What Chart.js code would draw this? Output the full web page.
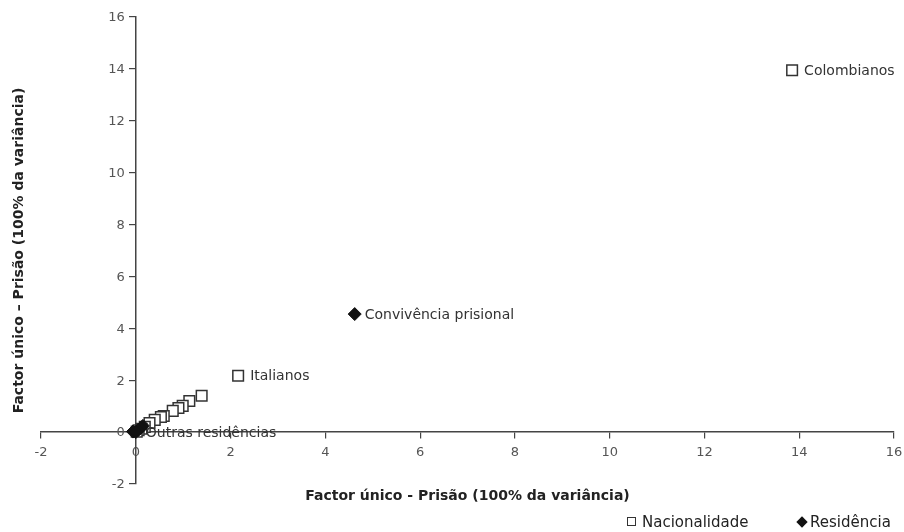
<!DOCTYPE html>
<html>
<head>
<meta charset="utf-8">
<script src="https://cdn.jsdelivr.net/npm/chart.js@4"></script>
<style>
  html, body { margin: 0; padding: 0; background: #fff; }
  #wrap { position: relative; width: 904px; height: 532px; }
  #legend { position: absolute; top: 513px; left: 0; width: 904px; height: 19px;
    font: 15px "DejaVu Sans", Verdana, sans-serif; color: #222; }
  #legend span { position: absolute; white-space: nowrap; }
  .sq { display: inline-block; width: 7px; height: 7px; border: 1.5px solid #333; margin-right: 6px; vertical-align: 1px; }
  .dm { display: inline-block; width: 8px; height: 8px; background: #111; transform: rotate(45deg); margin-right: 4px; vertical-align: 1px; }
</style>
</head>
<body>
<div id="wrap">
  <canvas id="chart" width="904" height="532"></canvas>
  <div id="legend">
    <span style="left:627px"><i class="sq"></i>Nacionalidade</span>
    <span style="left:798px"><i class="dm"></i>Residência</span>
  </div>
</div>
<script>
// Factor único - Prisão, two groups of points
const nacX = [13.85, 2.16, 1.39, 1.13, 0.99, 0.90, 0.78, 0.59, 0.53, 0.40, 0.29, 0.19, 0.12, 0.06, 0.02];
const nacY = [13.95, 2.17, 1.40, 1.20, 1.01, 0.93, 0.82, 0.62, 0.58, 0.47, 0.35, 0.20, 0.13, 0.07, 0.02];
const nacLabels = ["Colombianos", "Italianos", "", "", "", "", "", "", "", "", "", "", "", "", ""];

const resX = [4.62, 0.15, 0.10, 0.05, -0.06, 0.0];
const resY = [4.55, 0.24, 0.15, 0.08, 0.02, 0.0];
const resLabels = ["Convivência prisional", "", "", "", "", "Outras residências"];

const axisTicks = [-2, 0, 2, 4, 6, 8, 10, 12, 14, 16];

const FONT = '"DejaVu Sans", Verdana, sans-serif';

const toPoints = (xs, ys) => xs.map((x, i) => ({ x: x, y: ys[i] }));

// point labels, y tick labels and axis titles
const labelPlugin = {
  id: "pointLabels",
  afterDraw(chart) {
    const ctx = chart.ctx;
    const xs = chart.scales.x, ys = chart.scales.y;
    const area = chart.chartArea;
    ctx.save();
    ctx.textBaseline = "middle";

    // y tick labels (Chart.js puts them right on the axis line when it sits at x = 0)
    ctx.font = "13px " + FONT;
    ctx.fillStyle = "#555";
    ctx.textAlign = "right";
    const ax = xs.getPixelForValue(0);
    axisTicks.forEach(v => ctx.fillText(String(v), ax - 11, ys.getPixelForValue(v) + 1));

    ctx.textAlign = "left";
    ctx.font = "14px " + FONT;
    ctx.fillStyle = "#333";
    const sets = [nacLabels, resLabels];
    chart.data.datasets.forEach((ds, di) => {
      chart.getDatasetMeta(di).data.forEach((pt, i) => {
        const txt = sets[di][i];
        if (txt) ctx.fillText(txt, pt.x + (di === 0 ? 12 : 10), pt.y + 1);
      });
    });

    ctx.fillStyle = "#222";
    ctx.textAlign = "center";
    ctx.font = "bold 14px " + FONT;
    ctx.fillText("Factor único - Prisão (100% da variância)", (area.left + area.right) / 2, 496);
    ctx.translate(19, (area.top + area.bottom) / 2);
    ctx.rotate(-Math.PI / 2);
    ctx.fillText("Factor único – Prisão (100% da variância)", 0, 0);
    ctx.restore();
  }
};

const scaleCommon = {
  min: -2,
  max: 16,
  afterBuildTicks: s => { s.ticks = axisTicks.map(v => ({ value: v })); },
  grid: { display: true, drawOnChartArea: false, drawTicks: true, tickLength: 6, color: "#444", lineWidth: 1.2 },
  border: { display: true, color: "#444", width: 1.5 },
  ticks: { font: { family: FONT, size: 13 }, color: "#555", padding: 7 }
};

new Chart(document.getElementById("chart"), {
  type: "scatter",
  data: {
    datasets: [
      {
        label: "Nacionalidade",
        data: toPoints(nacX, nacY),
        order: 1,
        pointStyle: "rect",
        radius: 7.5,
        borderColor: "#333",
        borderWidth: 1.5,
        backgroundColor: "#fff"
      },
      {
        label: "Residência",
        data: toPoints(resX, resY),
        order: 0,
        pointStyle: "rectRot",
        radius: 6.5,
        borderColor: "#111",
        borderWidth: 1,
        backgroundColor: "#111"
      }
    ]
  },
  options: {
    responsive: false,
    animation: false,
    layout: { padding: { left: 41, right: 10, top: 17, bottom: 48 } },
    plugins: { legend: { display: false }, tooltip: { enabled: false } },
    scales: {
      x: Object.assign({}, scaleCommon, {
        position: { y: 0 },
        afterFit: s => { s.height = 0; s.paddingLeft = 0; s.paddingRight = 0; }
      }),
      y: Object.assign({}, scaleCommon, {
        position: { x: 0 },
        ticks: { display: false },
        afterFit: s => { s.width = 0; s.paddingTop = 0; s.paddingBottom = 0; }
      })
    }
  },
  plugins: [labelPlugin]
});
</script>
</body>
</html>
